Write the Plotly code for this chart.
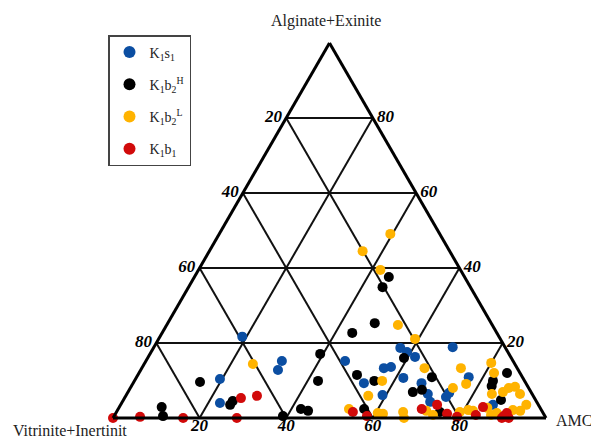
import plotly.graph_objects as go

# Ternary data: A = Alginate+Exinite (%), AMC (%); V+I = 100 - A - AMC
k1s1_A = [21.7, 10.4, 4.0, 15.2, 12.8, 15.2, 9.3, 6.1, 13.3, 13.6, 18.7, 17.6, 16.3, 10.7, 9.3, 6.4, 4.3, 5.6, 6.7, 18.9, 10.9, 3.5]
k1s1_C = [19.0, 19.5, 22.7, 31.4, 31.7, 46.0, 53.3, 59.2, 55.9, 57.4, 57.0, 59.1, 61.6, 61.7, 66.6, 69.5, 71.1, 74.1, 74.3, 69.0, 76.7, 86.0]

k1b2h_A = [9.6, 2.9, 0.5, 4.5, 3.5, 0.5, 2.4, 1.9, 9.9, 17.1, 22.7, 25.3, 34.9, 37.6, 11.5, 9.9, 2.4, 16.0, 6.9, 7.5, 10.9, 1.6, 12.0, 9.9, 8.5, 4.8]
k1b2h_C = [15.3, 9.8, 11.3, 25.4, 25.3, 39.0, 42.2, 44.1, 42.4, 39.3, 43.9, 47.8, 44.8, 44.9, 50.6, 55.4, 56.8, 59.2, 65.8, 67.6, 68.2, 74.7, 85.0, 82.8, 83.2, 87.2]

k1b2l_A = [49.1, 44.5, 39.5, 24.8, 21.1, 14.4, 13.3, 13.3, 9.1, 8.0, 9.9, 5.9, 14.7, 12.0, 6.4, 2.4, 1.3, 1.1, 1.6, 0.0, 1.9, 0.8, 1.6, 2.1, 1.9, 2.7, 0.8, 6.9, 8.0, 8.3, 6.4, 3.5, 2.1, 1.9, 1.3]
k1b2l_C = [39.5, 35.4, 42.0, 53.4, 59.2, 25.1, 65.3, 73.7, 77.0, 74.5, 57.2, 56.0, 80.0, 82.0, 84.3, 53.3, 60.5, 61.8, 66.2, 67.2, 71.4, 73.5, 79.3, 81.0, 82.2, 85.1, 86.9, 86.6, 87.4, 88.7, 90.8, 93.7, 91.3, 93.1, 88.0]

k1b1_A = [0.0, 0.3, 0.0, 0.0, 5.3, 5.9, 1.6, 0.5, 2.4, 3.5, 1.1, 0.3, 0.8, 2.9, 0.0, 1.3, 0.0, 0.5]
k1b1_C = [0.0, 6.1, 16.2, 28.6, 26.9, 30.3, 54.6, 58.4, 70.1, 73.1, 76.6, 79.3, 83.4, 84.0, 89.8, 90.3, 91.4, 90.0]

series_names = ["K<sub>1</sub>s<sub>1</sub>",
                "K<sub>1</sub>b<sub>2</sub><sup>H</sup>",
                "K<sub>1</sub>b<sub>2</sub><sup>L</sup>",
                "K<sub>1</sub>b<sub>1</sub>"]
series_colors = ["#0b4ea2", "#000000", "#ffb300", "#d10a0a"]
series_A = [k1s1_A, k1b2h_A, k1b2l_A, k1b1_A]
series_C = [k1s1_C, k1b2h_C, k1b2l_C, k1b1_C]

tick_vals = [20, 40, 60, 80]

SERIF = "Liberation Serif, Times New Roman, serif"

fig = go.Figure()
for i, (name, col, A, C) in enumerate(zip(series_names, series_colors, series_A, series_C)):
    B = [round(100 - a - c, 3) for a, c in zip(A, C)]
    fig.add_trace(go.Scatterternary(
        a=A, b=B, c=C, mode="markers", name=name,
        legendgroup=f"g{i}",
        marker=dict(color=col, size=10, line=dict(width=0)),
        cliponaxis=False,
    ))

tickfont = dict(family=SERIF, size=17, color="black", weight="bold", style="italic")
# left edge labels (V+I value)
fig.add_trace(go.Scatterternary(
    a=[100 - v for v in tick_vals], b=tick_vals, c=[0] * 4,
    mode="text", text=[f"{v}\u00a0" for v in tick_vals], textposition="middle left",
    textfont=tickfont, showlegend=False, hoverinfo="skip", cliponaxis=False))
# right edge labels (A value)
fig.add_trace(go.Scatterternary(
    a=tick_vals, b=[0] * 4, c=[100 - v for v in tick_vals],
    mode="text", text=[f"\u00a0{v}" for v in tick_vals], textposition="middle right",
    textfont=tickfont, showlegend=False, hoverinfo="skip", cliponaxis=False))
# bottom edge labels (AMC value)
fig.add_trace(go.Scatterternary(
    a=[0] * 4, b=[100 - v for v in tick_vals], c=tick_vals,
    mode="text", text=[str(v) for v in tick_vals], textposition="bottom center",
    textfont=tickfont, showlegend=False, hoverinfo="skip", cliponaxis=False))

axis_common = dict(
    showticklabels=False, ticks="", dtick=20, tick0=0,
    showgrid=True, gridcolor="#111111", gridwidth=1.5,
    showline=True, linecolor="black", linewidth=3, title=dict(text=""),
)

fig.update_layout(
    width=591, height=440,
    margin=dict(l=0, r=0, t=0, b=0),
    paper_bgcolor="white",
    showlegend=True,
    ternary=dict(
        sum=100,
        bgcolor="white",
        domain=dict(x=[113 / 591, 546 / 591], y=[22 / 440, 397 / 440]),
        aaxis=axis_common, baxis=axis_common, caxis=axis_common,
    ),
    legend=dict(
        x=108 / 591, y=1 - 35 / 440, xanchor="left", yanchor="top",
        bgcolor="white", bordercolor="#444", borderwidth=1.5,
        font=dict(family=SERIF, size=14, color="#222"),
        tracegroupgap=11, itemsizing="constant", itemwidth=30,
    ),
    annotations=[
        dict(text="Alginate+Exinite", x=326 / 591, y=1 - 21 / 440, xref="paper", yref="paper",
             showarrow=False, xanchor="center", yanchor="middle",
             font=dict(family=SERIF, size=16, color="#222")),
        dict(text="Vitrinite+Inertinit", x=11 / 591, y=1 - 430 / 440, xref="paper", yref="paper",
             showarrow=False, xanchor="left", yanchor="middle",
             font=dict(family=SERIF, size=16, color="#222")),
        dict(text="AMC", x=554 / 591, y=1 - 420 / 440, xref="paper", yref="paper",
             showarrow=False, xanchor="left", yanchor="middle",
             font=dict(family=SERIF, size=16, color="#222")),
    ],
)

fig.write_html("out.html")
